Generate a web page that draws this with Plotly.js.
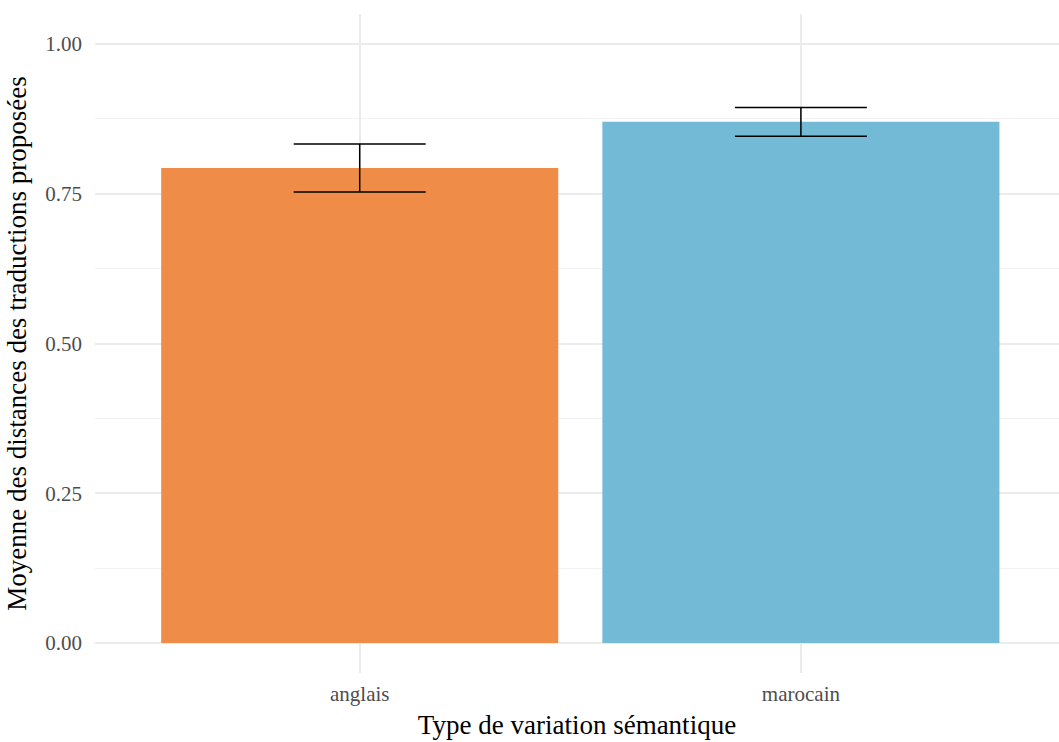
<!DOCTYPE html>
<html>
<head>
<meta charset="utf-8">
<script src="https://cdn.plot.ly/plotly-3.0.1.min.js"></script>
<style>html,body{margin:0;padding:0;background:#fff;}#chart{width:1059px;height:742px;}</style>
</head>
<body>
<div id="chart"></div>
<script>
const categories = ["anglais", "marocain"];
const means = [0.793, 0.870];
const errors = [0.040, 0.024];
const colors = ["#EF8C48", "#72BAD5"];
const yTicks = [0, 0.25, 0.5, 0.75, 1.0];
const yTickLabels = ["0.00", "0.25", "0.50", "0.75", "1.00"];

const font = "Liberation Serif, Times New Roman, serif";

const trace = {
  type: "bar",
  x: categories,
  y: means,
  marker: {color: colors},
  width: 0.9,
  error_y: {type: "data", array: errors, visible: true, color: "#000000", thickness: 1.5, width: 66},
  hoverinfo: "skip"
};

const layout = {
  width: 1059, height: 742,
  margin: {l: 95, r: 0, t: 14, b: 69},
  paper_bgcolor: "#ffffff", plot_bgcolor: "#ffffff",
  showlegend: false,
  font: {family: font},
  xaxis: {
    type: "category",
    range: [-0.6, 1.585],
    showgrid: true, gridcolor: "#EBEBEB", gridwidth: 2,
    zeroline: false, showline: false, ticks: "",
    ticklabelstandoff: 6,
    tickfont: {family: font, size: 21, color: "#4D4D4D"},
    title: {text: "Type de variation sémantique", font: {family: font, size: 27, color: "#000000"}, standoff: 10},
    automargin: false
  },
  yaxis: {
    range: [-0.05, 1.05],
    tickvals: yTicks, ticktext: yTickLabels,
    showgrid: true, gridcolor: "#EBEBEB", gridwidth: 2,
    minor: {dtick: 0.125, tick0: 0.125, showgrid: true, gridcolor: "#F2F2F2", gridwidth: 1, ticks: ""},
    zeroline: false, showline: false, ticks: "",
    ticklabelstandoff: 12,
    tickfont: {family: font, size: 21, color: "#4D4D4D"},
    title: {text: "Moyenne des distances des traductions proposées", font: {family: font, size: 27, color: "#000000"}, standoff: 10},
    automargin: false
  }
};

Plotly.newPlot("chart", [trace], layout, {displayModeBar: false, staticPlot: true});
</script>
</body>
</html>
